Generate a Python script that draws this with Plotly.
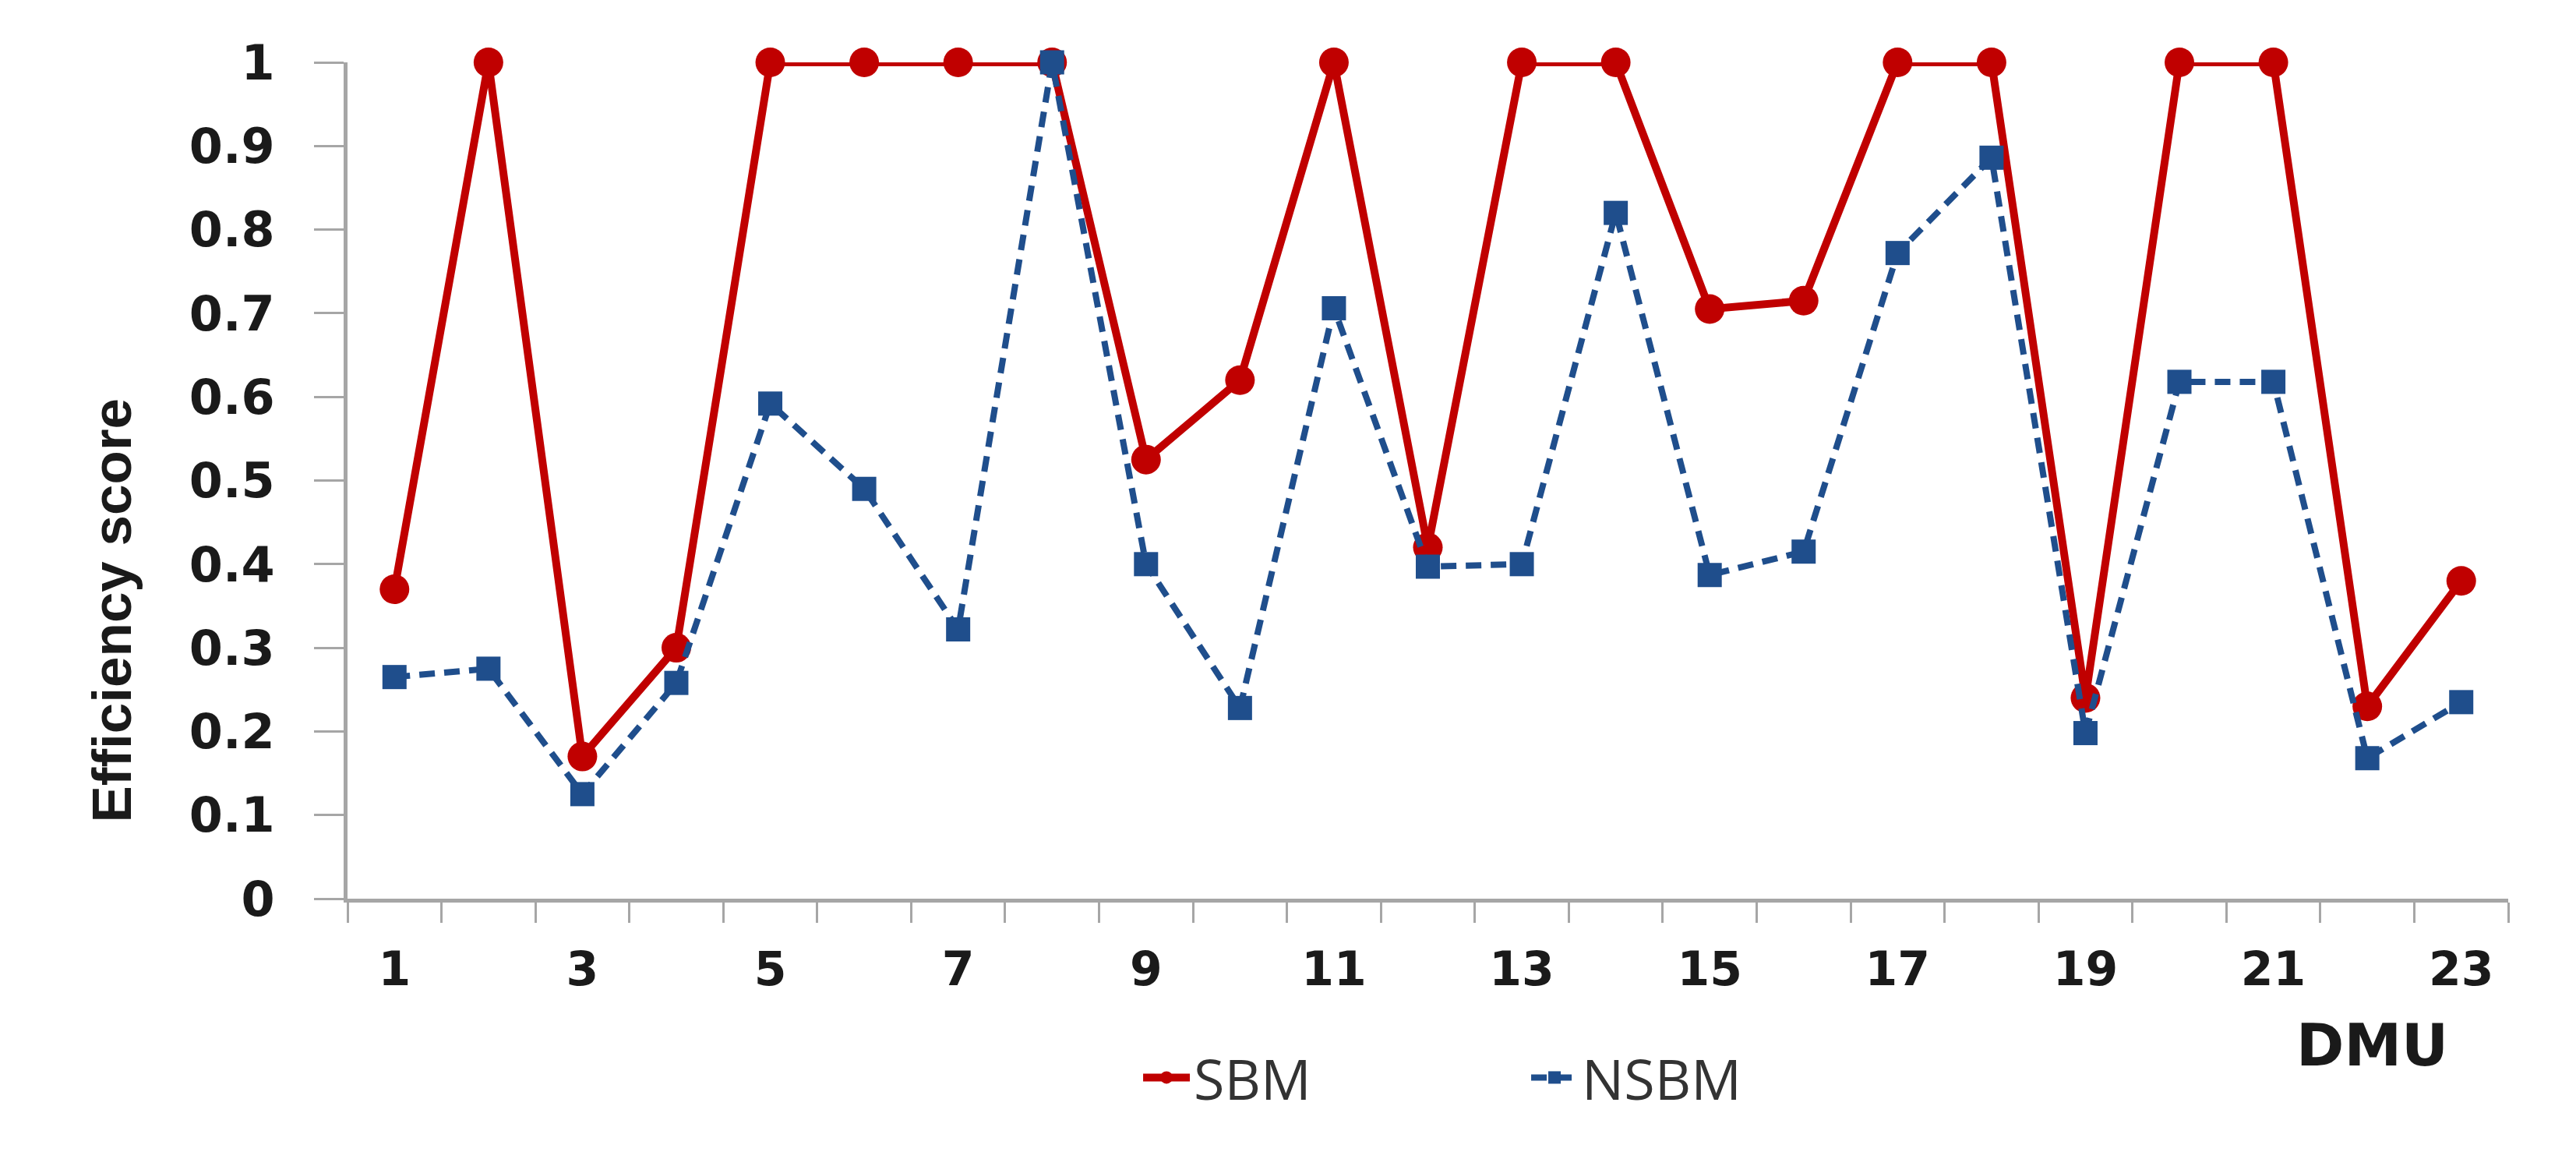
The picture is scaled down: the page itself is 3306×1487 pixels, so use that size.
import plotly.graph_objects as go

# DMU index and efficiency scores
dmu = list(range(1, 24))
sbm = [0.37, 1.0, 0.17, 0.30, 1.0, 1.0, 1.0, 1.0, 0.525, 0.62, 1.0, 0.42,
       1.0, 1.0, 0.705, 0.715, 1.0, 1.0, 0.24, 1.0, 1.0, 0.23, 0.38]
nsbm = [0.265, 0.275, 0.125, 0.258, 0.592, 0.49, 0.322, 1.0, 0.40, 0.228, 0.706, 0.397,
        0.40, 0.82, 0.387, 0.415, 0.772, 0.886, 0.198, 0.618, 0.618, 0.168, 0.235]
x_ticks = list(range(1, 24, 2))
x_labels = [str(v) for v in x_ticks]

red = '#C00000'
blue = '#1F4E8C'
axis_grey = '#A6A6A6'

fig = go.Figure()

fig.add_trace(go.Scatter(x=dmu, y=sbm, mode='lines+markers', name='SBM',
                         line=dict(color=red, width=10),
                         marker=dict(symbol='circle', size=38, color=red),
                         cliponaxis=False))

fig.add_trace(go.Scatter(x=dmu, y=nsbm, mode='lines+markers', name='NSBM',
                         line=dict(color=blue, width=8, dash='20px,12px'),
                         marker=dict(symbol='square', size=31, color=blue),
                         cliponaxis=False))

fig.update_layout(
    width=3306, height=1487,
    margin=dict(l=438, r=95, t=72, b=342),
    plot_bgcolor='white', paper_bgcolor='white',
    showlegend=True,
    legend=dict(orientation='h', x=0.546, y=-0.214, xanchor='center', yanchor='middle',
                font=dict(family='Open Sans', size=72, color='#333333'),
                itemwidth=60, entrywidth=423),
    annotations=[
        dict(text='<b>Efficiency score</b>', textangle=-90, xref='paper', yref='paper',
             x=-0.109, y=0.345, xanchor='center', yanchor='middle', showarrow=False,
             font=dict(family='Liberation Sans', size=71, color='#1a1a1a')),
        dict(text='<b>DMU</b>', xref='paper', yref='paper',
             x=0.937, y=-0.175, xanchor='center', yanchor='middle', showarrow=False,
             font=dict(family='DejaVu Sans', size=74, color='#1a1a1a')),
    ],
)

fig.update_xaxes(range=[0.5, 23.5], tickvals=x_ticks, ticktext=x_labels,
                 showgrid=False, zeroline=False,
                 showline=True, linecolor=axis_grey, linewidth=5,
                 ticks='', ticklabelstandoff=34,
                 tickfont=dict(family='DejaVu Sans', size=60, color='#1a1a1a', weight='bold'),
                 minor=dict(ticks='outside', tick0=0.5, dtick=1, ticklen=26,
                            tickwidth=3, tickcolor=axis_grey, showgrid=False))

fig.update_yaxes(range=[0, 1], dtick=0.1, tick0=0,
                 showgrid=False, zeroline=False,
                 showline=True, linecolor=axis_grey, linewidth=5,
                 ticks='outside', ticklen=38, tickwidth=3, tickcolor=axis_grey,
                 ticklabelstandoff=38,
                 tickfont=dict(family='DejaVu Sans', size=62, color='#1a1a1a', weight='bold'))

fig.write_html("out.html")
